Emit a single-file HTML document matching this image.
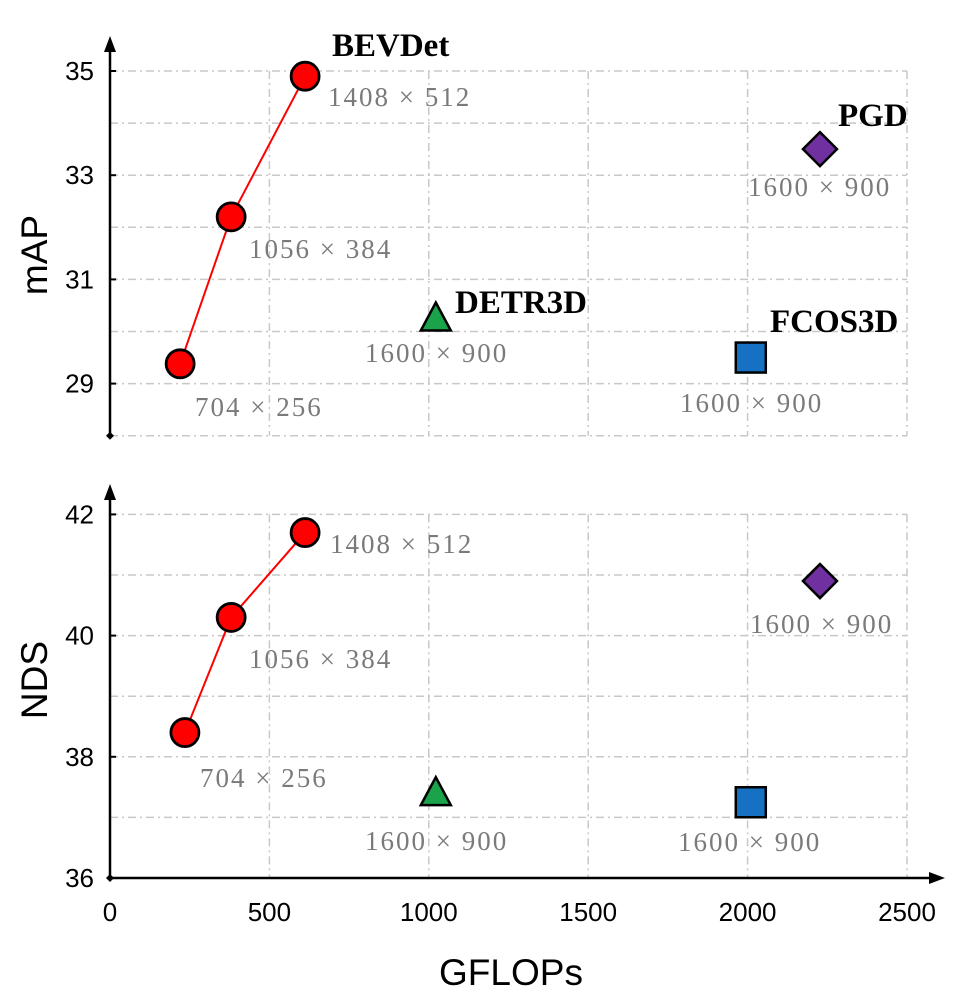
<!DOCTYPE html>
<html><head><meta charset="utf-8"><style>
body{margin:0;background:#fff}
svg{display:block}
.tick{font-family:"Liberation Sans",sans-serif;font-size:26px;fill:#000}
.res{font-family:"Liberation Serif",serif;font-size:27px;letter-spacing:2px;fill:#7a7a7a}
.nm{font-family:"Liberation Serif",serif;font-size:33px;font-weight:bold;fill:#000}
.title{font-family:"Liberation Sans",sans-serif;font-size:37px;fill:#000}
</style></head><body>
<svg id="c" width="966" height="998" viewBox="0 0 966 998"></svg>
<script>
const xTicks=[0,500,1000,1500,2000,2500];
const mapTicks=[29,31,33,35];
const ndsTicks=[36,38,40,42];
const bevGflopsTop=[220,380,612];
const bevMap=[29.38,32.2,34.9];
const bevGflopsBot=[235,380,612];
const bevNds=[38.4,40.3,41.7];
const otherNames=["DETR3D","FCOS3D","PGD"];
const otherGflops=[1022,2010,2227];
const otherMap=[30.25,29.5,33.5];
const otherNds=[37.4,37.25,40.9];
const bevRes=["704 × 256","1056 × 384","1408 × 512"];

const NS="http://www.w3.org/2000/svg";
const svg=document.getElementById('c');
function el(t,a,p){const e=document.createElementNS(NS,t);for(const k in a)e.setAttribute(k,a[k]);(p||svg).appendChild(e);return e;}
const X=v=>110+v*(797/2500);
const Ym=v=>71+(35-v)*52.1;
const Yn=v=>878-(v-36)*60.6;

function panel(Y,lo,hi,ticks,top,name){
  const g=el('g',{});
  
  
  for(let v=lo;v<=hi;v+=1){const l=el('line',{x1:110,x2:907,y1:Y(v),y2:Y(v),stroke:'#c8c8c8','stroke-width':1.5,'stroke-dasharray':'8,4,2,4'},g);}
  xTicks.slice(1).forEach(v=>{const l=el('line',{x1:X(v),x2:X(v),y1:Y(hi),y2:Y(lo),stroke:'#c8c8c8','stroke-width':1.5,'stroke-dasharray':'8,4,2,4'},g);});
  const ax=el('line',{x1:110,x2:110,y1:Y(lo),y2:top+8,stroke:'#000','stroke-width':2.5},g);
  
  const ar=el('polygon',{points:`110,${top} 104,${top+16} 116,${top+16}`,fill:'#000'},g);
  
  const yb=Y(lo);
  const d=el('polygon',{points:`110,${yb-4} 114,${yb} 110,${yb+4} 106,${yb}`,fill:'#000'},g);
  
  ticks.forEach(v=>{const t=el('text',{x:94,y:Y(v)+9,'text-anchor':'end',class:'tick'},g);t.textContent=v;
    const tk=el('line',{x1:110,x2:116,y1:Y(v),y2:Y(v),stroke:'#000','stroke-width':2},g);});
  return g;
}
const gt=panel(Ym,28,35,mapTicks,36,'map');
const gb=panel(Yn,36,42,ndsTicks,484,'nds');
const xa=el('line',{x1:110,x2:935,y1:878,y2:878,stroke:'#000','stroke-width':2.5});

const xr=el('polygon',{points:'945,878 929,872 929,884',fill:'#000'});

xTicks.forEach(v=>{const t=el('text',{x:X(v),y:921,'text-anchor':'middle',class:'tick'});t.textContent=v;});
let t=el('text',{x:511,y:985,'text-anchor':'middle',class:'title'});t.textContent='GFLOPs';
t=el('text',{x:0,y:0,'text-anchor':'middle',class:'title',transform:'translate(47,255) rotate(-90)'});t.textContent='mAP';
t=el('text',{x:0,y:0,'text-anchor':'middle',class:'title',transform:'translate(47,680) rotate(-90)'});t.textContent='NDS';

function txt(x,y,s,c,g,n){const e=el('text',{x:x,y:y,class:c},g);e.textContent=s;return e;}
const colors=['#1aa34a','#1670c4','#7030a0'];
function marker(i,cx,cy,g){let e;
  if(i===0)e=el('polygon',{points:`${cx},${cy-16} ${cx+15},${cy+12} ${cx-15},${cy+12}`,fill:colors[0],stroke:'#000','stroke-width':2.5},g);
  else if(i===1)e=el('rect',{x:cx-15,y:cy-15,width:30,height:30,fill:colors[1],stroke:'#000','stroke-width':2.5},g);
  else e=el('polygon',{points:`${cx},${cy-17} ${cx+17},${cy} ${cx},${cy+17} ${cx-17},${cy}`,fill:colors[2],stroke:'#000','stroke-width':2.5},g);
  }

function series(Y,gx,gy,g){
  const pts=gx.map((v,i)=>X(v)+','+Y(gy[i])).join(' ');
  const pl=el('polyline',{points:pts,fill:'none',stroke:'#f00','stroke-width':2},g);
  
  gx.forEach((v,i)=>{const c=el('circle',{cx:X(v),cy:Y(gy[i]),r:14,fill:'#f00',stroke:'#000','stroke-width':2.8},g);});
}
series(Ym,bevGflopsTop,bevMap,gt);
series(Yn,bevGflopsBot,bevNds,gb);
otherNames.forEach((n,i)=>{marker(i,X(otherGflops[i]),Ym(otherMap[i]),gt);marker(i,X(otherGflops[i]),Yn(otherNds[i]),gb);});

txt(332,56,'BEVDet','nm',gt,'bevdet-label');
txt(328,106,bevRes[2],'res',gt,'res-label');
txt(249,258,bevRes[1],'res',gt,'res-label');
txt(195,416,bevRes[0],'res',gt,'res-label');
txt(455,313,'DETR3D','nm',gt,'detr3d-label');
txt(365,362,'1600 × 900','res',gt,'res-label');
txt(770,332,'FCOS3D','nm',gt,'fcos3d-label');
txt(680,412,'1600 × 900','res',gt,'res-label');
txt(838,126,'PGD','nm',gt,'pgd-label');
txt(748,196,'1600 × 900','res',gt,'res-label');
txt(330,553,bevRes[2],'res',gb,'res-label');
txt(249,668,bevRes[1],'res',gb,'res-label');
txt(200,787,bevRes[0],'res',gb,'res-label');
txt(365,850,'1600 × 900','res',gb,'res-label');
txt(678,851,'1600 × 900','res',gb,'res-label');
txt(750,633,'1600 × 900','res',gb,'res-label');
</script>
</body></html>
